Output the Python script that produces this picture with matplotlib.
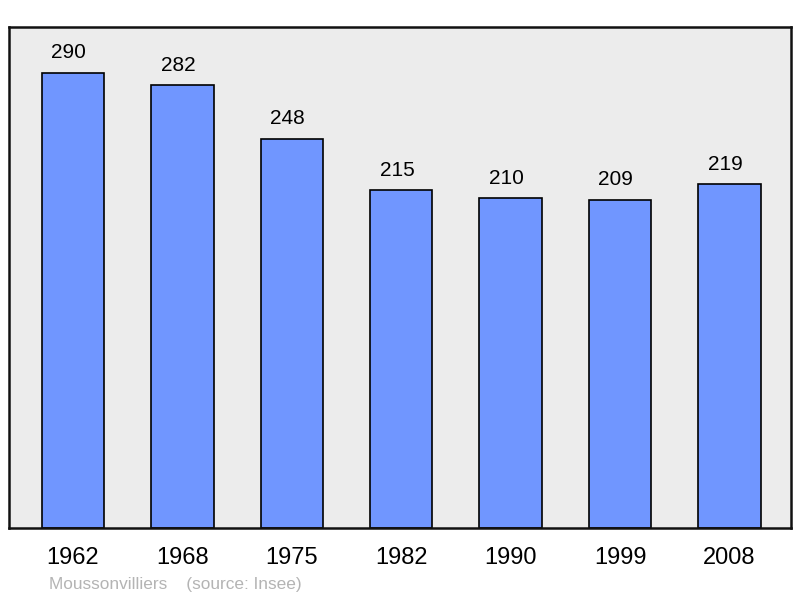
import matplotlib
matplotlib.use("Agg")
import matplotlib.pyplot as plt

plt.rcParams['font.family'] = ['Liberation Sans', 'DejaVu Sans']

years = ["1962", "1968", "1975", "1982", "1990", "1999", "2008"]
population = [290, 282, 248, 215, 210, 209, 219]
commune = "Moussonvilliers"

fig = plt.figure(figsize=(8, 5.98), dpi=100)
ax = fig.add_axes([9 / 800, 1 - 528 / 598, 782 / 800, 501 / 598])
ax.set_facecolor("#ececec")

x = range(len(years))
ax.bar(x, population, width=0.57, color="#7096ff", edgecolor="black", linewidth=1.2, zorder=2)

# value labels above the bars (sit a little left of centre in the original)
for i, v in zip(x, population):
    ax.annotate(str(v), (i, v), xytext=(-3, 7.5), textcoords="offset points",
                ha="center", va="bottom", fontsize=15)

ax.set_xlim(-0.585, 6.562)
ax.set_ylim(0, 319)
ax.set_xticks(list(x))
ax.set_xticklabels(years, fontsize=17)
ax.tick_params(axis="x", length=0, pad=14)
ax.set_yticks([])
for s in ax.spines.values():
    s.set_linewidth(1.8)
    s.set_color("#111111")

fig.text(49 / 800, 1 - 584 / 598, commune + "    (source: Insee)", color="#b4b4b4",
         fontsize=12.4, ha="left", va="center")

fig.savefig("out.png", dpi=100)
